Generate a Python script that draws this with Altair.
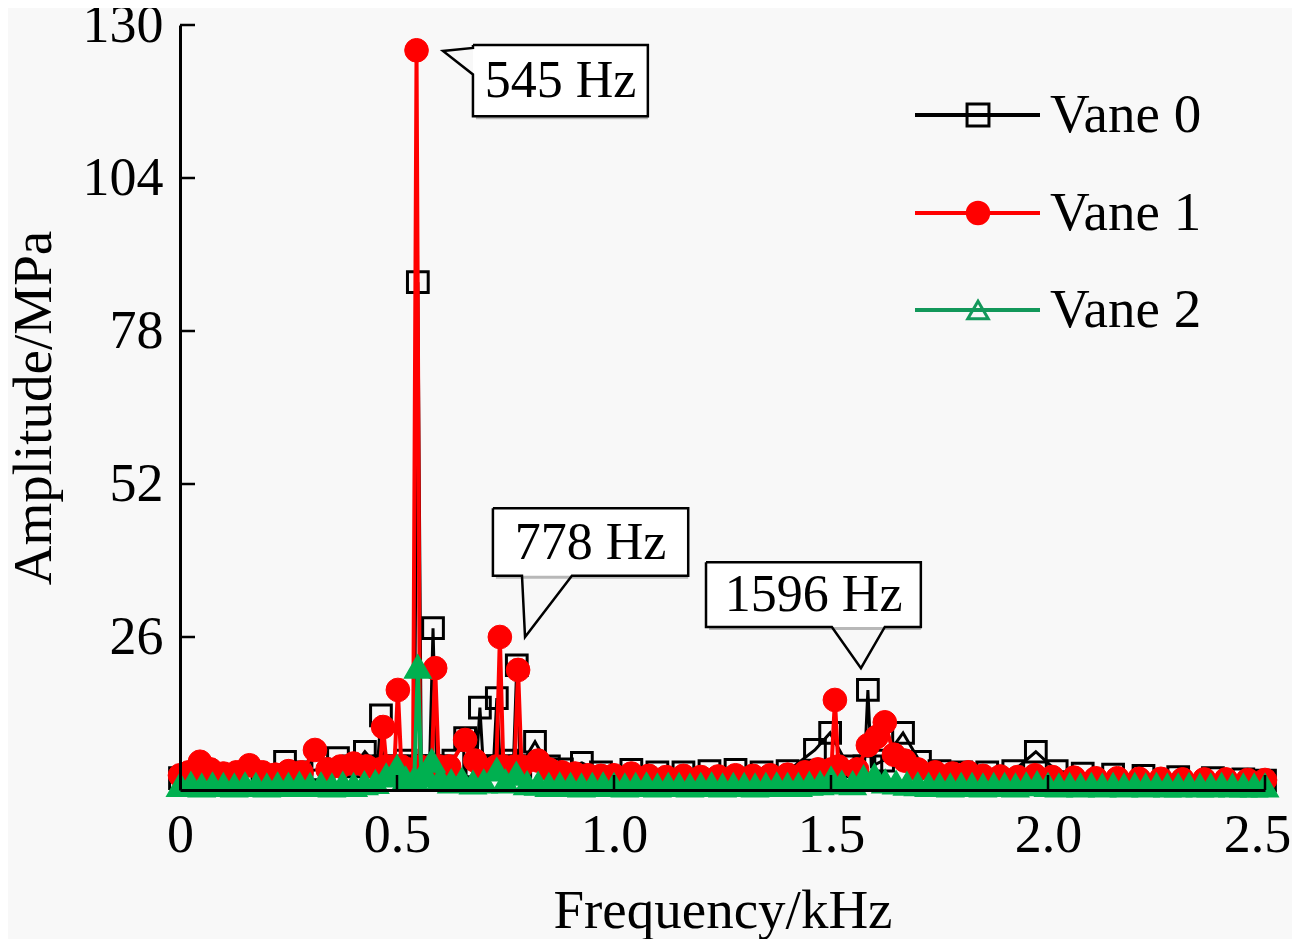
import altair as alt
import pandas as pd

# ---- data (frequency in kHz, amplitude in MPa) ----
vane0_f = [0.0, 0.03, 0.07, 0.11, 0.15, 0.19, 0.242, 0.28, 0.32, 0.364, 0.40, 0.426, 0.455,
           0.463, 0.471, 0.50, 0.52, 0.540, 0.548, 0.556, 0.575, 0.583, 0.591, 0.61, 0.63,
           0.657, 0.683, 0.691, 0.699, 0.722, 0.730, 0.738, 0.755, 0.768, 0.776, 0.784, 0.818,
           0.85, 0.88, 0.926, 0.97, 1.04, 1.10, 1.16, 1.22, 1.28, 1.34, 1.40, 1.463, 1.498,
           1.54, 1.577, 1.585, 1.593, 1.62, 1.666, 1.705, 1.75, 1.80, 1.86, 1.92, 1.972, 2.02,
           2.08, 2.15, 2.22, 2.30, 2.38, 2.45, 2.5]
vane0_v = [2.0, 2.5, 2.2, 2.4, 2.6, 2.4, 4.8, 3.0, 3.5, 5.4, 4.0, 6.5, 4.0,
           12.7, 4.0, 4.0, 5.0, 4.0, 86.3, 4.0, 4.0, 27.5, 4.0, 4.0, 5.0,
           8.8, 4.0, 14.0, 4.0, 4.0, 15.6, 4.0, 5.0, 4.0, 21.2, 4.0, 8.2,
           4.0, 3.5, 4.6, 3.0, 3.4, 3.0, 3.0, 3.2, 3.4, 3.0, 3.2, 6.8, 9.7,
           4.0, 4.0, 17.0, 4.0, 5.0, 9.7, 4.8, 3.2, 3.0, 3.0, 3.2, 6.5, 3.2,
           2.8, 2.6, 2.4, 2.2, 2.0, 1.8, 1.6]

vane1_f = [0.0, 0.02, 0.046, 0.07, 0.10, 0.13, 0.16, 0.19, 0.22, 0.25, 0.28, 0.311, 0.34,
           0.37, 0.40, 0.43, 0.460, 0.468, 0.476, 0.494, 0.502, 0.510, 0.537, 0.545, 0.553,
           0.580, 0.588, 0.596, 0.62, 0.657, 0.68, 0.70, 0.729, 0.737, 0.745, 0.771, 0.779,
           0.787, 0.825, 0.85, 0.88, 0.91, 0.94, 0.97, 1.00, 1.04, 1.08, 1.12, 1.16, 1.20,
           1.24, 1.28, 1.32, 1.36, 1.40, 1.44, 1.47, 1.501, 1.509, 1.517, 1.56, 1.585, 1.605,
           1.624, 1.645, 1.67, 1.70, 1.74, 1.78, 1.816, 1.85, 1.89, 1.93, 1.97, 2.01, 2.06,
           2.11, 2.16, 2.21, 2.26, 2.31, 2.36, 2.41, 2.46, 2.5]
vane1_v = [2.5, 3.0, 4.8, 3.5, 2.8, 3.0, 4.2, 3.0, 2.6, 3.2, 3.0, 6.8, 3.5,
           4.0, 4.5, 4.0, 3.5, 10.7, 4.0, 4.0, 17.0, 4.0, 3.5, 125.7, 4.0,
           4.0, 20.7, 4.0, 4.0, 8.5, 5.0, 3.5, 4.0, 26.0, 4.0, 4.0, 20.4,
           4.0, 5.0, 3.5, 3.0, 2.8, 2.5, 2.4, 2.5, 2.8, 2.4, 2.2, 2.4, 2.2,
           2.3, 2.5, 2.4, 2.5, 2.6, 3.0, 3.5, 3.5, 15.3, 4.0, 3.5, 7.6, 9.0,
           11.5, 6.0, 5.0, 3.5, 3.0, 2.8, 3.0, 2.4, 2.3, 2.2, 2.5, 2.2, 2.1,
           2.0, 2.0, 1.9, 1.9, 1.8, 1.8, 1.8, 1.7, 1.7]

vane2_f = [0.0, 0.025, 0.05, 0.075, 0.10, 0.125, 0.15, 0.175, 0.20, 0.225, 0.25, 0.275,
           0.30, 0.325, 0.35, 0.375, 0.40, 0.425, 0.45, 0.475, 0.50, 0.52, 0.540, 0.548,
           0.556, 0.565, 0.58, 0.60, 0.625, 0.65, 0.675, 0.70, 0.73, 0.75, 0.775, 0.80,
           0.825, 0.85, 0.875, 0.90, 0.925, 0.95, 0.975, 1.00, 1.025, 1.05, 1.075, 1.10,
           1.125, 1.15, 1.175, 1.20, 1.225, 1.25, 1.275, 1.30, 1.325, 1.35, 1.375, 1.40,
           1.425, 1.45, 1.475, 1.50, 1.525, 1.55, 1.575, 1.60, 1.625, 1.65, 1.675, 1.70,
           1.725, 1.75, 1.775, 1.80, 1.825, 1.85, 1.875, 1.90, 1.925, 1.95, 1.975, 2.00,
           2.025, 2.05, 2.075, 2.10, 2.125, 2.15, 2.175, 2.20, 2.225, 2.25, 2.275, 2.30,
           2.325, 2.35, 2.375, 2.40, 2.425, 2.45, 2.475, 2.50]
vane2_v = [0.9, 1.1, 0.8, 1.0, 0.9, 0.8, 1.0, 0.9, 0.8, 1.0, 0.9, 1.1,
           0.9, 1.0, 0.8, 1.1, 0.9, 1.2, 1.4, 2.5, 4.0, 2.0, 2.0, 21.0,
           2.5, 3.0, 5.0, 2.0, 1.5, 1.8, 1.3, 1.5, 3.5, 1.5, 2.8, 1.2,
           1.1, 0.9, 1.0, 0.9, 0.8, 0.9, 1.0, 0.9, 0.8, 0.9, 1.0, 0.8,
           0.9, 0.9, 0.8, 0.9, 1.0, 0.8, 0.9, 0.9, 0.8, 0.9, 1.0, 0.9,
           0.9, 1.1, 1.2, 2.0, 1.3, 1.2, 2.2, 2.5, 1.5, 1.3, 1.1, 1.0,
           0.9, 0.9, 0.8, 0.9, 0.9, 0.8, 0.9, 0.9, 0.8, 1.0, 1.2, 0.9,
           0.8, 0.9, 0.8, 0.9, 0.8, 0.9, 0.8, 0.9, 0.8, 0.9, 0.8, 0.8,
           0.9, 0.8, 0.8, 0.9, 0.8, 0.8, 0.8, 0.8]

x_ticks = [0, 0.5, 1.0, 1.5, 2.0, 2.5]
y_ticks = [0, 26, 52, 78, 104, 130]

# callout boxes: label, left, right, top, bottom, text x, text y
callout_text = ["545 Hz", "778 Hz", "1596 Hz"]
callout_x0 = [0.675, 0.721, 1.212]
callout_x1 = [1.078, 1.171, 1.707]
callout_top = [126.6, 47.9, 38.7]
callout_bot = [114.5, 36.4, 27.7]
callout_tx = [0.877, 0.946, 1.460]
callout_ty = [120.4, 42.0, 33.2]
# outline of each callout including its pointer
outline_f = [
    [0.675, 1.078, 1.078, 0.675, 0.675, 0.606, 0.675, 0.675],
    [0.721, 1.171, 1.171, 0.903, 0.795, 0.788, 0.721, 0.721],
    [1.212, 1.707, 1.707, 1.624, 1.569, 1.502, 1.212, 1.212],
]
outline_v = [
    [126.6, 126.6, 114.5, 114.5, 121.6, 125.6, 126.1, 126.6],
    [47.9, 47.9, 36.4, 36.4, 26.0, 36.4, 36.4, 47.9],
    [38.7, 38.7, 27.7, 27.7, 20.7, 27.7, 27.7, 38.7],
]

FONT = "Liberation Serif"
BLACK, RED, GREEN = "#000000", "#ff0000", "#00b050"

xs = alt.Scale(domain=[0, 2.5], nice=False, zero=True)
ys = alt.Scale(domain=[0, 130], nice=False, zero=True)
x_axis = alt.Axis(values=x_ticks, ticks=False, grid=False, domainColor="black", domainWidth=3,
                  labelExpr="datum.value == 0 ? '0' : format(datum.value, '.1f')",
                  labelOffset={"condition": {"test": "datum.value == 2.5", "value": -8}, "value": 0},
                  labelFont=FONT, labelFontSize=54, labelColor="black", labelPadding=18,
                  titleFont=FONT, titleFontSize=55, titleFontWeight="normal", titleColor="black",
                  titlePadding=22, labelFlush=False, zindex=1)
y_axis = alt.Axis(values=y_ticks, ticks=False, grid=False, domainColor="black", domainWidth=3,
                  labelExpr="datum.value == 0 ? '' : datum.label",
                  labelFont=FONT, labelFontSize=54, labelColor="black", labelPadding=17,
                  titleFont=FONT, titleFontSize=55, titleFontWeight="normal", titleColor="black",
                  titlePadding=20, labelFlush=False, zindex=1)


def X(field="f"):
    return alt.X(f"{field}:Q", scale=xs, axis=x_axis, title="Frequency/kHz")


def Y(field="v"):
    return alt.Y(f"{field}:Q", scale=ys, axis=y_axis, title="Amplitude/MPa")


def series(fs, vs, color, shape, filled, size, lw, pw):
    df = pd.DataFrame({"f": fs, "v": vs})
    line = alt.Chart(df).mark_line(color=color, strokeWidth=lw).encode(x=X(), y=Y())
    pts = alt.Chart(df).mark_point(shape=shape, filled=filled, fill=color if filled else None,
                                   stroke=color, size=size,
                                   strokeWidth=pw, opacity=1).encode(x=X(), y=Y())
    return line + pts


s0 = series(vane0_f, vane0_v, BLACK, "square", False, 430, 3, 3)
s1 = series(vane1_f, vane1_v, RED, "circle", True, 560, 4, 1)
s2 = series(vane2_f, vane2_v, GREEN, "triangle-up", True, 700, 4, 1.5)

# inward ticks
xt = alt.Chart(pd.DataFrame({"f": x_ticks[1:]})).mark_rule(color="black", strokeWidth=2.5).encode(
    x=X(), y=alt.value(765), y2=alt.value(750))
yt = alt.Chart(pd.DataFrame({"v": y_ticks[1:]})).mark_rule(color="black", strokeWidth=2.5).encode(
    y=Y(), x=alt.value(0), x2=alt.value(15))

# callouts
box_df = pd.DataFrame({"x0": callout_x0, "x1": callout_x1, "y0": callout_bot, "y1": callout_top,
                       "tx": callout_tx, "ty": callout_ty, "label": callout_text})
shadow = alt.Chart(box_df).mark_rect(color="#b8b8b8", xOffset=3, yOffset=3).encode(
    x=X("x0"), x2="x1", y=Y("y0"), y2="y1")
box = alt.Chart(box_df).mark_rect(color="white").encode(x=X("x0"), x2="x1", y=Y("y0"), y2="y1")
rows = []
for i, (fl, vl) in enumerate(zip(outline_f, outline_v)):
    for j, (a, b) in enumerate(zip(fl, vl)):
        rows.append({"id": i, "k": j, "f": a, "v": b})
outline = alt.Chart(pd.DataFrame(rows)).mark_line(color="black", strokeWidth=2.5).encode(
    x=X(), y=Y(), detail="id:N", order="k:Q")
labels = alt.Chart(box_df).mark_text(font=FONT, fontSize=52, color="black", baseline="middle",
                                     align="center").encode(x=X("tx"), y=Y("ty"), text="label:N")

# legend drawn by hand (line with marker, as in the figure)
one = pd.DataFrame({"a": [0]})
legend = []
legend_rows = [("Vane 0", BLACK, "square", False, 480, 3, 90),
               ("Vane 1", RED, "circle", True, 600, 1, 188),
               ("Vane 2", "#12985a", "triangle-up", False, 420, 3, 285)]
for name, color, shape, filled, size, pw, ypos in legend_rows:
    legend.append(alt.Chart(one).mark_rule(color=color, strokeWidth=4).encode(
        x=alt.value(735), x2=alt.value(860), y=alt.value(ypos)))
    legend.append(alt.Chart(one).mark_point(shape=shape, filled=filled, color=color, size=size,
                                            strokeWidth=pw, opacity=1).encode(
        x=alt.value(798), y=alt.value(ypos)))
    legend.append(alt.Chart(one).mark_text(font=FONT, fontSize=55, color="black", align="left",
                                           baseline="middle").encode(
        x=alt.value(870), y=alt.value(ypos), text=alt.value(name)))

chart = alt.layer(s0, s1, s2, xt, yt, shadow, box, outline, labels, *legend).properties(
    width=1085, height=765,
    padding={"left": 172, "top": 17, "right": 27, "bottom": 149},
    autosize=alt.AutoSizeParams(type="none"),
    background="#f8f8f8",
).configure_view(stroke=None, fill=None)

chart.save("out.html", embed_options={"renderer": "svg", "actions": False})
